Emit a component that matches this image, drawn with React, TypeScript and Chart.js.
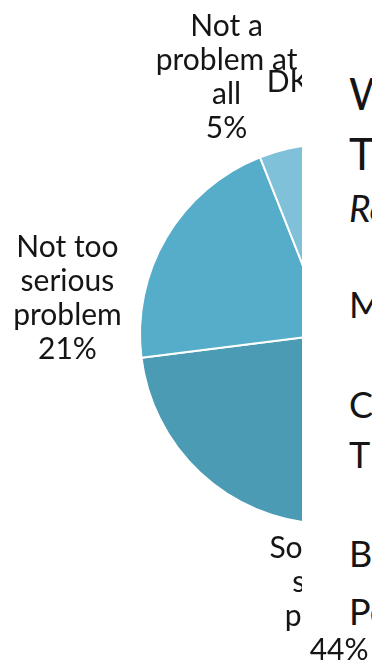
import React, { useEffect, useRef } from "react";
import { Chart, registerables } from "chart.js";

Chart.register(...registerables);

// ---- data ----
const categories = [
  "Very serious problem",
  "Somewhat serious problem",
  "Not too serious problem",
  "Not a problem at all",
  "DK",
];
const values = [29, 44, 21, 5, 1];
const labelWords = [
  ["Very", "serious", "problem"],
  ["Somewhat", "serious", "problem"],
  ["Not too", "serious", "problem"],
  ["Not a", "problem at", "all"],
  ["DK"],
];
const sliceColors = ["#2E84A1", "#4A9BB3", "#56ADC9", "#7EC1D8", "#A9D6E6"];
// label nudges relative to the rim point at each slice's mid angle
const labelNudges = [
  [70, -10],
  [21, 74],
  [-99, 60],
  [-62, -73],
  [-36, -63],
];
const slideLines = [
  { text: "What", size: 44, italic: false, top: 71 },
  { text: "The", size: 44, italic: false, top: 131 },
  { text: "Rep", size: 37, italic: true, top: 189 },
  { text: "Men", size: 36, italic: false, top: 286 },
  { text: "Con", size: 36, italic: false, top: 386 },
  { text: "Tho", size: 36, italic: false, top: 436 },
  { text: "Bla", size: 36, italic: false, top: 535 },
  { text: "Peo", size: 36, italic: false, top: 593 },
];

const FONT = "Lato, 'Open Sans', sans-serif";

const outLabels = {
  id: "outLabels",
  afterDatasetsDraw(chart: any) {
    const ctx = chart.ctx;
    const meta = chart.getDatasetMeta(0);
    ctx.save();
    ctx.font = `30px ${FONT}`;
    ctx.fillStyle = "#151515";
    ctx.textAlign = "center";
    ctx.textBaseline = "alphabetic";
    const lh = 34;
    meta.data.forEach((arc: any, i: number) => {
      const p = arc.getProps(["x", "y", "startAngle", "endAngle", "outerRadius"], true);
      const mid = (p.startAngle + p.endAngle) / 2;
      const ax = p.x + Math.cos(mid) * p.outerRadius + labelNudges[i][0];
      const ay = p.y + Math.sin(mid) * p.outerRadius + labelNudges[i][1];
      const lines =
        labelWords[i].length === 1
          ? [labelWords[i][0]]
          : [...labelWords[i], `${values[i]}%`];
      const first = ay - ((lines.length - 1) * lh) / 2 + 11;
      lines.forEach((t: string, k: number) => ctx.fillText(t, ax, first + k * lh));
    });
    ctx.restore();
  },
};

export default function App() {
  const ref = useRef<HTMLCanvasElement | null>(null);

  useEffect(() => {
    document.body.style.margin = "0";
    const canvas = ref.current;
    if (!canvas) return;
    const chart = new Chart(canvas, {
      type: "pie",
      data: {
        labels: categories,
        datasets: [
          {
            data: values,
            backgroundColor: sliceColors,
            borderColor: "#ffffff",
            borderWidth: 2,
          },
        ],
      },
      options: {
        responsive: false,
        animation: false,
        devicePixelRatio: 1,
        layout: { padding: { left: 139, right: 139, top: 143, bottom: 143 } },
        plugins: {
          legend: { display: false },
          tooltip: { enabled: false },
        },
      },
      plugins: [outLabels],
    });
    return () => chart.destroy();
  }, []);

  return (
    <div
      style={{
        position: "fixed",
        left: 0,
        top: 0,
        width: 372,
        height: 662,
        overflow: "hidden",
        background: "#ffffff",
      }}
    >
      <canvas
        ref={ref}
        width={660}
        height={668}
        style={{ position: "absolute", left: 0, top: 0, width: 660, height: 668 }}
      />
      <div
        style={{
          position: "absolute",
          left: 302,
          top: 0,
          width: 200,
          height: 638,
          background: "#ffffff",
          fontFamily: FONT,
          color: "#151515",
        }}
      >
        {slideLines.map((l, i) => (
          <div
            key={i}
            style={{
              position: "absolute",
              left: 47,
              top: l.top,
              fontSize: l.size,
              lineHeight: `${l.size}px`,
              fontStyle: l.italic ? "italic" : "normal",
              whiteSpace: "nowrap",
            }}
          >
            {l.text}
          </div>
        ))}
      </div>
    </div>
  );
}
